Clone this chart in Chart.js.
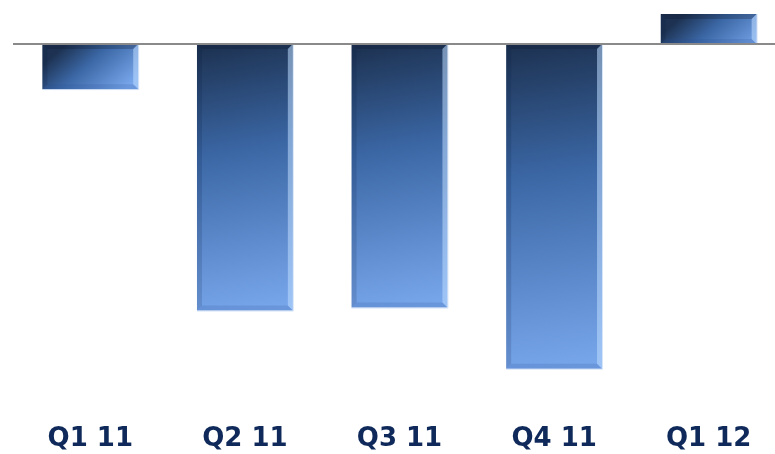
<!DOCTYPE html>
<html>
<head>
<meta charset="utf-8">
<script src="https://cdn.jsdelivr.net/npm/chart.js@4/dist/chart.umd.min.js"></script>
<style>
    html, body { margin: 0; padding: 0; background: #fff; overflow: hidden; }
    .wrap { width: 786px; height: 454px; }
</style>
</head>
<body>
<div class="wrap"><canvas id="chart"></canvas></div>
<script>
// quarters and values
const quarters = ['Q1 11', 'Q2 11', 'Q3 11', 'Q4 11', 'Q1 12'];
const values = [-4.5, -26.6, -26.3, -32.4, 3.0];
const yMin = -37.1;
const yMax = 3.4;

const barPct = 0.62;

function barGradient(ctx) {
    const chart = ctx.chart;
    const area = chart.chartArea;
    if (!area || ctx.type !== 'data') return '#3d6aa8';
    const xs = chart.scales.x;
    const ys = chart.scales.y;
    const cx = xs.getPixelForValue(ctx.dataIndex);
    const half = (xs.getPixelForValue(1) - xs.getPixelForValue(0)) * barPct / 2;
    const y0 = ys.getPixelForValue(0);
    const y1 = ys.getPixelForValue(ctx.raw);
    const top = Math.min(y0, y1);
    const len = Math.max(Math.abs(y1 - y0), 55);
    const g = chart.ctx.createLinearGradient(cx - half * 0.5, top, cx + half * 0.5, top + len);
    g.addColorStop(0, '#1d3252');
    g.addColorStop(0.4, '#3b67a5');
    g.addColorStop(1, '#79a7ec');
    return g;
}

function quad(c, pts, fill) {
    c.beginPath();
    c.moveTo(pts[0][0], pts[0][1]);
    for (let i = 1; i < pts.length; i++) c.lineTo(pts[i][0], pts[i][1]);
    c.closePath();
    c.fillStyle = fill;
    c.fill();
}

// bevel edges on every bar
const bevelPlugin = {
    id: 'bevel',
    afterDatasetsDraw(chart) {
        const c = chart.ctx;
        const meta = chart.getDatasetMeta(0);
        meta.data.forEach(bar => {
            const l = bar.x - bar.width / 2;
            const r = bar.x + bar.width / 2;
            const t = Math.min(bar.y, bar.base);
            const b = Math.max(bar.y, bar.base);
            const d = Math.min(5, (b - t) / 3);
            c.save();
            // top
            quad(c, [[l, t], [r, t], [r - d, t + d], [l + d, t + d]], 'rgba(10,20,40,0.25)');
            // left
            quad(c, [[l, t], [l + d, t + d], [l + d, b - d], [l, b]], 'rgba(10,25,60,0.15)');
            // right
            quad(c, [[r, t], [r, b], [r - d, b - d], [r - d, t + d]], 'rgba(190,220,255,0.55)');
            // bottom
            quad(c, [[l, b], [l + d, b - d], [r - d, b - d], [r, b]], 'rgba(40,80,150,0.18)');
            // soft outline
            c.strokeStyle = 'rgba(200,220,245,0.7)';
            c.lineWidth = 1;
            c.beginPath();
            c.moveTo(r + 0.5, t);
            c.lineTo(r + 0.5, b + 0.5);
            c.lineTo(l, b + 0.5);
            c.stroke();
            c.restore();
        });
    }
};

// zero line across the plot
const zeroLinePlugin = {
    id: 'zeroLine',
    afterDatasetsDraw(chart) {
        const c = chart.ctx;
        const y = Math.round(chart.scales.y.getPixelForValue(0));
        c.save();
        c.strokeStyle = '#8a8a8a';
        c.lineWidth = 2;
        c.beginPath();
        c.moveTo(chart.chartArea.left, y);
        c.lineTo(chart.chartArea.right, y);
        c.stroke();
        c.restore();
    }
};

const ctx = document.getElementById('chart').getContext('2d');

new Chart(ctx, {
    type: 'bar',
    data: {
        labels: quarters,
        datasets: [
            {
                data: values,
                backgroundColor: barGradient,
                borderWidth: 0,
                barPercentage: barPct,
                categoryPercentage: 1
            }
        ]
    },
    options: {
        responsive: true,
        maintainAspectRatio: false,
        animation: false,
        events: [],
        layout: {
            padding: { left: 13, right: 0, top: 10, bottom: -9 }
        },
        plugins: {
            legend: { display: false },
            tooltip: { enabled: false }
        },
        scales: {
            x: {
                grid: { display: false, drawTicks: false },
                border: { display: false },
                ticks: {
                    padding: 8,
                    color: '#0f2a5a',
                    font: { family: 'DejaVu Sans', size: 26, weight: 'bold', lineHeight: 1.2 }
                }
            },
            y: {
                display: false,
                min: yMin,
                max: yMax
            }
        }
    },
    plugins: [bevelPlugin, zeroLinePlugin]
});
</script>
</body>
</html>
